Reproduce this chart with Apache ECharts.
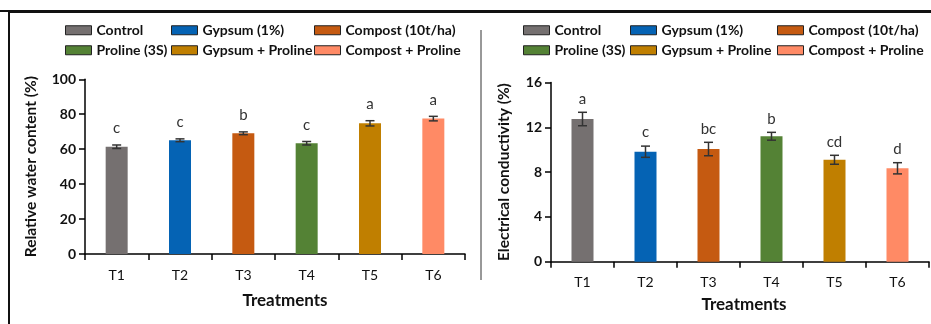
<!DOCTYPE html>
<html><head><meta charset="utf-8">
<script src="https://cdn.jsdelivr.net/npm/echarts@6/dist/echarts.min.js"></script>
<style>html,body{margin:0;padding:0;background:#fff}#c{width:931px;height:324px}</style>
</head><body><div id="c"></div>
<script>
const categories = ['T1','T2','T3','T4','T5','T6'];
const treatmentNames = ['Control','Gypsum (1%)','Compost (10t/ha)','Proline (3S)','Gypsum + Proline','Compost + Proline'];
const colors = ['#757070','#0563B4','#C55A11','#548235','#C07F00','#FF8A65'];
const rwcValues = [61.4, 65.1, 69.1, 63.4, 74.8, 77.5];
const rwcErrors = [1.0, 0.8, 0.8, 1.0, 1.5, 1.3];
const rwcLetters = ['c','c','b','c','a','a'];
const ecValues = [12.74, 9.82, 10.06, 11.2, 9.1, 8.34];
const ecErrors = [0.6, 0.5, 0.6, 0.35, 0.4, 0.5];
const ecLetters = ['a','c','bc','b','cd','d'];
const rwcTicks = {min:0, max:100, interval:20};
const ecTicks = {min:0, max:16, interval:4};

const FONT = 'Lato';
const chart = echarts.init(document.getElementById('c'), null, {renderer:'canvas'});

function barSeries(values, axisIdx){
  return values.map((v,i)=>({
    name: treatmentNames[i], type:'bar', stack:'s'+axisIdx,
    xAxisIndex:axisIdx, yAxisIndex:axisIdx, barWidth:22,
    itemStyle:{color:colors[i]},
    data: values.map((vv,j)=> j===i ? vv : '-')
  }));
}
function errSeries(values, errors, letters, axisIdx, gap){
  return {
    type:'custom', xAxisIndex:axisIdx, yAxisIndex:axisIdx, z:10,
    data: values.map((v,i)=>[i, v, errors[i]]),
    renderItem: function(params, api){
      const i = api.value(0), v = api.value(1), e = api.value(2);
      const top = api.coord([i, v+e]);
      const bot = api.coord([i, v-e]);
      const hw = 4.5;
      const st = {stroke:'#333', lineWidth:1.5};
      return {type:'group', children:[
        {type:'line', shape:{x1:top[0],y1:top[1],x2:bot[0],y2:bot[1]}, style:st},
        {type:'line', shape:{x1:top[0]-hw,y1:top[1],x2:top[0]+hw,y2:top[1]}, style:st},
        {type:'line', shape:{x1:bot[0]-hw,y1:bot[1],x2:bot[0]+hw,y2:bot[1]}, style:st},
        {type:'text', style:{text:letters[params.dataIndex], x:top[0], y:top[1]-gap,
          align:'center', verticalAlign:'bottom', fontSize:15, fontFamily:FONT, fill:'#333'}}
      ]};
    }
  };
}
function legends(lefts, top){
  const cols = [[0,3],[1,4],[2,5]];
  return cols.map((c,k)=>({
    orient:'vertical', left:lefts[k], top:top, padding:0, itemWidth:26, itemHeight:9, itemGap:3.5,
    selectedMode:false, icon:'rect',
    itemStyle:{borderColor:'#222', borderWidth:1},
    textStyle:{fontFamily:FONT, fontWeight:'bold', fontSize:14, color:'#111', lineHeight:16.5},
    data:c.map(j=>treatmentNames[j])
  }));
}
const axisLine = {show:true, lineStyle:{color:'#000', width:1.5}};
function xAx(gridIndex, pad, gap){
  return {type:'category', gridIndex, data:categories, boundaryGap:true,
    axisLine, axisTick:{show:true, length:6, lineStyle:{color:'#000', width:1.5}},
    axisLabel:{fontFamily:FONT, fontSize:14, color:'#111', margin:14},
    name:'Treatments', nameLocation:'middle', nameGap:gap,
    nameTextStyle:{fontFamily:FONT, fontWeight:'bold', fontSize:17, color:'#111', padding:pad}};
}
function yAx(gridIndex, t, name, gap){
  return {type:'value', gridIndex, min:t.min, max:t.max, interval:t.interval,
    splitLine:{show:false}, axisLine, axisTick:{show:true, length:6, lineStyle:{color:'#000', width:1.5}},
    axisLabel:{fontFamily:FONT, fontWeight:'bold', fontSize:14, color:'#111', margin:9},
    name, nameLocation:'middle', nameGap:gap,
    nameTextStyle:{fontFamily:FONT, fontWeight:'bold', fontSize:15.5, color:'#111'}};
}

chart.setOption({
  animation:false,
  grid:[
    {left:85, top:79.3, width:380, height:174.7},
    {left:551, top:82.5, width:378, height:179.2}
  ],
  legend:[].concat(legends([65,171,314],22), legends([523,630,777],22)),
  xAxis:[xAx(0,[0,0,0,20],38), xAx(1,[0,0,0,8],34)],
  yAxis:[yAx(0, rwcTicks, 'Relative water content (%)', 46), yAx(1, ecTicks, 'Electrical conductivity (%)', 39)],
  series:[].concat(
    barSeries(rwcValues,0), barSeries(ecValues,1),
    [errSeries(rwcValues, rwcErrors, rwcLetters, 0, 9), errSeries(ecValues, ecErrors, ecLetters, 1, 6)]
  ),
  graphic:[
    {type:'rect', shape:{x:9, y:12, width:940, height:330}, style:{fill:'none', stroke:'#111', lineWidth:2}, silent:true},
    {type:'line', shape:{x1:0, y1:11, x2:931, y2:11}, style:{stroke:'#111', lineWidth:2}, silent:true},
    {type:'line', shape:{x1:481, y1:30, x2:481, y2:280}, style:{stroke:'#333', lineWidth:1}, silent:true}
  ]
});
</script></body></html>
